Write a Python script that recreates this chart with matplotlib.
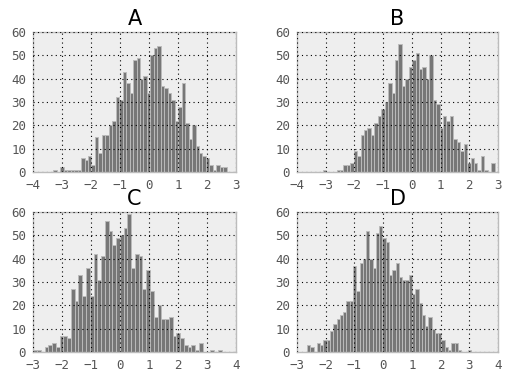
import numpy as np
import matplotlib
matplotlib.use("Agg")
import matplotlib.pyplot as plt

titles = ["A", "B", "C", "D"]

counts_A = [1, 0, 2, 1, 1, 1, 1, 1, 6, 5, 7, 3, 15, 8, 16, 16, 20, 22, 32, 31,
            43, 38, 34, 48, 49, 40, 41, 34, 50, 53, 54, 37, 36, 34, 31, 22, 28, 38, 21, 14,
            20, 11, 8, 7, 6, 3, 1, 3, 2, 2]
counts_B = [1, 0, 0, 0, 1, 1, 3, 3, 4, 9, 7, 16, 18, 19, 16, 21, 24, 27, 30, 38,
            34, 48, 55, 37, 40, 45, 48, 51, 44, 45, 40, 50, 31, 29, 19, 24, 22, 24, 14, 13,
            9, 12, 4, 6, 4, 1, 7, 1, 0, 4]
counts_C = [1, 1, 0, 2, 3, 4, 2, 7, 7, 6, 27, 22, 33, 24, 36, 24, 42, 31, 41, 56,
            52, 46, 49, 50, 53, 59, 36, 42, 41, 27, 35, 26, 15, 20, 14, 14, 15, 7, 8, 6,
            3, 2, 3, 1, 4, 0, 0, 1, 0, 1]
counts_D = [3, 2, 0, 4, 3, 5, 5, 9, 12, 14, 16, 17, 22, 22, 37, 26, 38, 40, 52, 40,
            36, 51, 54, 49, 47, 33, 35, 38, 32, 31, 31, 33, 25, 27, 21, 16, 11, 15, 10, 8,
            8, 5, 2, 1, 4, 4, 1, 0, 0, 1]

# data range (min, max) of each sample
range_A = (-3.30, 2.68)
range_B = (-3.10, 2.88)
range_C = (-2.99, 3.50)
range_D = (-2.65, 3.06)

xlims = [(-4, 3), (-4, 3), (-3, 4), (-3, 4)]
ylim = (0, 60)

all_counts = [counts_A, counts_B, counts_C, counts_D]
all_ranges = [range_A, range_B, range_C, range_D]

fig = plt.figure(figsize=(5.11, 3.82), dpi=100)
fig.patch.set_facecolor("white")

positions = [
    [33/511, 1 - 172/382, 203/511, 140/382],
    [297/511, 1 - 172/382, 201/511, 140/382],
    [33/511, 1 - 352/382, 203/511, 140/382],
    [297/511, 1 - 352/382, 201/511, 140/382],
]

for pos, title, counts, rng, xl in zip(positions, titles, all_counts, all_ranges, xlims):
    ax = fig.add_axes(pos)
    ax.set_facecolor("#eeeeee")
    edges = np.linspace(rng[0], rng[1], len(counts) + 1)
    ax.hist(edges[:-1], bins=edges, weights=counts, color="#777777",
            edgecolor="#bbbbbb", linewidth=0.7)
    ax.set_xlim(*xl)
    ax.set_ylim(*ylim)
    ax.set_xticks(np.arange(xl[0], xl[1] + 1, 1))
    ax.set_yticks(np.arange(0, 61, 10))
    ax.grid(True, color="black", linestyle=(0, (1, 3)), linewidth=0.8)
    ax.set_axisbelow(False)
    for s in ax.spines.values():
        s.set_color("#bcbcbc")
        s.set_linewidth(1.0)
    ax.tick_params(length=0, labelsize=9, colors="#555555", pad=5)
    for lab in ax.get_xticklabels() + ax.get_yticklabels():
        lab.set_family("DejaVu Sans Mono")
    ax.set_title(title, fontsize=15, family="DejaVu Sans", pad=5)

fig.savefig("out.png", dpi=100)
